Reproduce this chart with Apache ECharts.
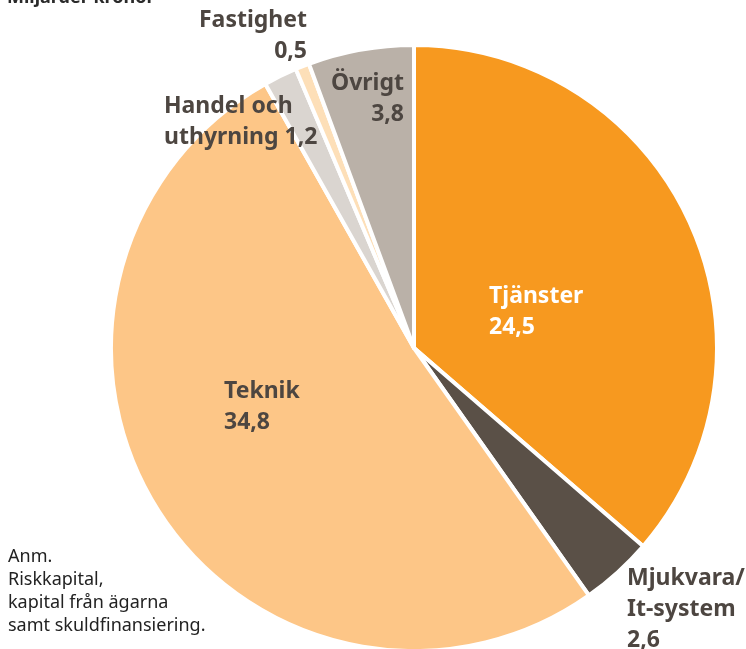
<!DOCTYPE html>
<html><head><meta charset="utf-8">
<script src="https://cdn.jsdelivr.net/npm/echarts@6/dist/echarts.min.js"></script>
<style>html,body{margin:0;padding:0;background:#fff}#c{width:746px;height:649px}</style>
</head><body><div id="c"></div>
<script>
const categories = ['Tjänster', 'Mjukvara/\nIt-system', 'Teknik', 'Handel och\nuthyrning', 'Fastighet', 'Övrigt'];
const values = [24.5, 2.6, 34.8, 1.2, 0.5, 3.8];
const colors = ['#F7991F', '#5A5047', '#FDC687', '#DAD5D0', '#FDDFB8', '#BAB1A8'];
const labelColors = ['#ffffff', '#4D4641', '#4D4641', '#4D4641', '#4D4641', '#4D4641'];
const labelSep = ['\n', '\n', '\n', ' ', '\n', '\n'];
const labelPos = [
  {x: 489, y: 281, align: 'left'},
  {x: 627, y: 563, align: 'left'},
  {x: 224, y: 376, align: 'left'},
  {x: 164, y: 91, align: 'left'},
  {x: 307, y: 5, align: 'right'},
  {x: 404, y: 68, align: 'right'}
];
const fmt = v => String(v).replace('.', ',');
const chart = echarts.init(document.getElementById('c'));
chart.setOption({
  animation: false,
  graphic: [
    {type: 'text', left: 7, top: -11, style: {text: 'Miljarder kronor', font: 'bold 18px "Noto Sans"', fill: '#2a2a2a'}},
    {type: 'text', left: 8, top: 545, style: {text: 'Anm.\nRiskkapital,\nkapital från ägarna\nsamt skuldfinansiering.', font: '18px "Noto Sans"', lineHeight: 23, fill: '#222'}}
  ],
  series: [{
    type: 'pie',
    center: [414, 348],
    radius: [0, 303],
    startAngle: 90,
    clockwise: true,
    silent: true,
    itemStyle: {borderColor: '#fff', borderWidth: 4},
    labelLine: {show: false},
    label: {
      show: true,
      position: 'inside',
      fontFamily: 'Noto Sans',
      fontWeight: 'bold',
      fontSize: 23,
      lineHeight: 31,
      formatter: p => p.name + labelSep[p.dataIndex] + fmt(p.value)
    },
    labelLayout: p => Object.assign({verticalAlign: 'top'}, labelPos[p.dataIndex]),
    data: categories.map((c, i) => ({
      name: c, value: values[i],
      itemStyle: {color: colors[i]},
      label: {color: labelColors[i], align: labelPos[i].align}
    }))
  }]
});
</script></body></html>
